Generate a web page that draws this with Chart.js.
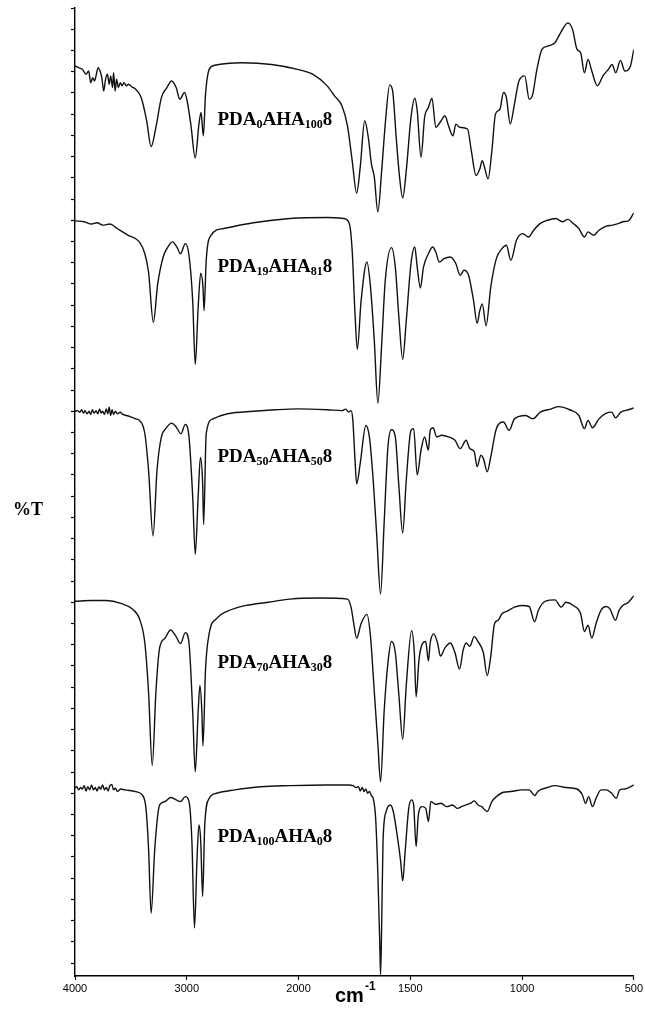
<!DOCTYPE html>
<html lang="en">
<head>
<meta charset="UTF-8">
<title>FTIR spectra PDA/AHA</title>
<script src="https://cdn.jsdelivr.net/npm/chart.js"></script>
<style>
    body { margin: 0; background: #fff; }
    #wrap { width: 645px; height: 1019px; }
</style>
</head>
<body>
<div id="wrap"><canvas id="irChart" width="645" height="1019"></canvas></div>
<script>
// x axis: wavenumber, scale changes at 2000 cm-1
const tickLabels = ['4000', '3000', '2000', '1500', '1000', '500'];

// each trace: [wavenumber, %T in stacked axis units]
const pda0aha100 = [
    [4000,42.27],[3967,42.19],[3934,42.11],[3901,41.88],[3878,42.03],[3859,41.48],[3842,41.72],[3826,41.56],
    [3812,41.80],[3793,42.19],[3776,42.03],[3760,41.72],[3743,41.09],[3727,41.64],[3710,41.88],[3694,41.41],
    [3681,41.80],[3664,41.25],[3655,41.95],[3641,41.09],[3628,41.64],[3612,41.25],[3595,41.48],[3579,41.33],
    [3562,41.48],[3539,41.33],[3523,41.41],[3490,41.28],[3457,41.17],[3408,40.78],[3359,39.69],
    [3319,38.47],[3276,39.38],[3227,40.78],[3178,41.25],[3135,41.56],[3095,41.25],[3062,40.70],[3020,41.02],
    [2997,40.63],[2964,39.53],[2924,37.94],[2891,39.53],[2872,40.08],[2852,38.98],[2832,40.94],[2799,42.11],
    [2750,42.30],[2503,42.42],[2240,42.34],[2010,42.11],[1937,41.88],[1872,41.33],[1839,40.86],[1806,40.39],
    [1781,39.45],[1760,37.81],[1740,36.28],[1724,37.50],[1704,39.69],[1688,38.91],[1674,37.66],[1661,37.03],
    [1645,35.39],[1628,37.34],[1612,39.53],[1592,41.38],[1579,41.09],[1562,38.75],[1548,37.03],[1534,36.05],
    [1518,37.34],[1497,39.84],[1480,40.75],[1469,40.16],[1452,37.97],[1436,39.84],[1419,40.31],[1403,40.75],
    [1386,39.38],[1362,39.69],[1345,39.92],[1329,39.45],[1309,38.98],[1296,39.53],[1280,39.38],[1244,39.30],
    [1227,38.28],[1206,37.11],[1189,37.42],[1178,37.81],[1168,37.50],[1152,36.95],[1135,38.28],[1119,40.00],
    [1099,40.23],[1083,41.02],[1070,40.78],[1053,39.53],[1034,40.47],[1014,41.56],[988,41.80],[968,40.70],
    [952,40.94],[935,42.03],[911,43.05],[886,43.20],[853,43.36],[828,43.83],[795,44.30],[774,43.98],
    [754,43.05],[738,42.89],[721,41.95],[705,42.58],[688,42.03],[663,41.33],[638,41.80],[614,42.11],
    [597,42.34],[581,41.95],[560,42.53],[540,42.03],[515,42.27],[500,43.05]
];

const pda19aha81 = [
    [4000,34.97],[3918,34.93],[3852,34.82],[3803,34.88],[3753,34.77],[3687,34.82],[3622,34.61],[3523,34.29],
    [3424,33.98],[3375,33.42],[3342,32.56],[3299,30.19],[3260,32.00],[3211,33.27],[3178,33.66],[3128,33.98],
    [3089,33.74],[3056,33.42],[3013,33.90],[2980,33.35],[2947,31.21],[2924,28.21],[2898,30.90],[2875,32.51],
    [2855,31.85],[2845,30.74],[2826,33.11],[2783,34.29],[2668,34.61],[2404,34.88],[2076,35.08],[1872,35.13],
    [1798,35.08],[1773,34.85],[1760,33.58],[1748,30.74],[1737,28.92],[1720,31.21],[1694,33.03],[1678,31.85],
    [1661,29.32],[1645,26.39],[1628,29.16],[1612,32.16],[1584,33.71],[1567,32.79],[1551,30.42],[1534,28.45],
    [1518,30.27],[1497,32.95],[1480,33.74],[1469,32.79],[1455,31.81],[1441,32.79],[1419,33.42],[1400,33.74],
    [1386,33.50],[1370,33.03],[1349,33.19],[1321,33.27],[1296,32.95],[1277,32.40],[1260,32.64],[1239,32.40],
    [1217,31.21],[1201,30.14],[1189,30.74],[1178,31.06],[1161,30.03],[1140,31.85],[1115,33.19],[1090,33.66],
    [1070,33.82],[1050,33.11],[1025,34.06],[997,34.37],[971,34.21],[948,34.53],[918,34.85],[886,35.00],
    [849,35.08],[820,34.93],[795,35.04],[771,34.85],[746,34.61],[721,34.21],[705,34.45],[680,34.29],
    [656,34.53],[623,34.72],[594,34.77],[566,34.85],[549,34.93],[524,34.97],[500,35.35]
];

const pda50aha50 = [
    [4000,26.00],[3977,26.03],[3957,25.95],[3941,26.07],[3924,25.91],[3911,26.03],[3891,25.88],[3875,26.00],
    [3859,25.85],[3845,26.07],[3829,25.91],[3812,26.03],[3796,25.88],[3780,26.11],[3766,25.91],[3753,26.00],
    [3737,25.85],[3720,26.11],[3707,25.88],[3694,26.19],[3681,25.80],[3668,26.07],[3655,25.85],[3638,26.00],
    [3622,25.88],[3595,25.95],[3572,25.85],[3539,25.80],[3507,25.75],[3457,25.64],[3424,25.57],
    [3375,24.94],[3342,23.23],[3302,20.12],[3266,23.23],
    [3227,24.79],[3188,25.18],[3135,25.44],[3095,25.26],[3052,24.94],[3013,25.38],[2980,24.79],[2947,21.98],
    [2924,19.26],[2898,21.98],[2878,23.82],[2858,22.61],[2849,20.66],[2826,24.94],[2766,25.64],[2635,25.88],
    [2404,26.00],[2207,26.07],[2007,26.11],[1872,26.07],[1806,26.03],[1789,26.10],[1776,25.96],[1765,26.03],
    [1757,25.57],[1748,23.85],[1740,22.58],
    [1724,23.54],[1699,25.33],[1683,24.79],[1666,22.76],[1650,20.12],[1633,17.39],[1617,20.74],[1600,24.32],
    [1584,25.13],[1567,24.79],[1551,22.45],[1534,20.27],[1518,22.76],[1497,25.10],[1485,25.18],[1469,23.00],
    [1452,24.17],[1436,24.79],[1419,24.17],[1411,25.10],[1398,25.22],[1382,24.79],[1359,24.87],[1329,24.79],
    [1300,24.63],[1277,24.24],[1250,24.63],[1234,24.24],[1214,24.09],[1201,23.39],[1184,23.93],[1173,23.78],
    [1156,23.15],[1140,23.85],[1115,25.18],[1083,25.49],[1058,25.10],[1034,25.64],[984,25.80],[952,25.64],
    [918,25.96],[869,26.11],[836,26.22],[787,26.07],[746,25.80],[721,25.18],[705,25.57],[685,25.22],
    [656,25.64],[623,25.91],[599,25.96],[582,25.69],[558,25.96],[524,26.07],[500,26.16]
];

const pda70aha30 = [
    [4000,17.05],[3852,17.08],[3720,17.08],[3589,16.95],[3490,16.69],[3424,16.23],[3375,15.08],[3342,12.77],
    [3309,9.31],[3276,12.77],[3243,14.85],[3194,15.31],[3145,15.69],[3095,15.38],[3056,15.05],[3013,15.57],
    [2980,15.08],[2947,11.85],[2924,9.00],[2898,11.85],[2882,13.08],[2865,11.85],[2855,10.23],[2832,13.85],
    [2799,15.54],[2734,16.23],[2635,16.58],[2470,16.85],[2273,17.00],[2076,17.15],[1905,17.20],[1781,17.15],
    [1765,16.77],[1753,16.00],[1740,15.31],[1720,16.00],[1694,16.43],[1678,15.38],[1661,12.77],[1645,10.31],
    [1633,8.54],[1617,11.85],[1600,14.15],[1584,15.15],[1567,14.62],[1551,12.62],[1534,10.54],[1518,13.08],
    [1494,15.66],[1482,14.62],[1474,12.54],[1461,14.31],[1444,15.08],[1431,15.15],[1419,14.23],[1411,15.08],
    [1395,15.51],[1378,15.08],[1365,14.46],[1345,14.85],[1321,15.08],[1300,14.62],[1280,13.85],[1263,14.77],
    [1250,15.08],[1234,14.92],[1214,15.38],[1197,15.15],[1173,14.62],[1156,13.54],[1140,14.46],[1123,16.00],
    [1107,16.15],[1090,16.46],[1066,16.58],[1034,16.77],[1002,16.85],[968,16.80],[944,16.08],[927,16.62],
    [895,17.05],[853,17.11],[824,16.77],[804,17.00],[771,16.85],[738,16.46],[721,15.62],[705,15.92],
    [688,15.31],[669,16.00],[647,16.62],[623,16.80],[607,16.69],[582,16.15],[566,16.62],[549,16.85],
    [524,17.00],[500,17.31]
];

const pda100aha0 = [
    [4000,8.24],[3984,8.31],[3967,8.16],[3951,8.27],[3934,8.20],[3918,8.36],[3901,8.11],[3885,8.31],
    [3868,8.16],[3852,8.39],[3836,8.16],[3819,8.27],[3803,8.11],[3786,8.31],[3770,8.20],[3753,8.39],
    [3737,8.16],[3720,8.27],[3704,8.11],[3688,8.36],[3671,8.42],[3655,8.16],[3638,8.24],[3622,8.08],
    [3589,8.20],[3556,8.16],[3457,8.08],[3398,7.92],[3365,7.29],[3342,5.41],[3319,2.35],[3286,5.41],
    [3243,7.45],[3194,7.61],[3145,7.80],[3095,7.69],[3056,7.61],[3013,7.84],[2980,7.61],[2954,5.73],
    [2931,1.65],[2908,4.94],[2891,6.51],[2875,5.73],[2858,3.14],[2839,6.51],[2799,7.76],[2734,8.00],
    [2569,8.16],[2339,8.31],[2076,8.36],[1872,8.39],[1773,8.39],[1757,8.36],[1743,8.27],[1732,8.31],
    [1724,8.11],[1715,8.27],[1707,8.08],[1699,8.20],[1691,8.00],[1683,8.08],[1674,7.89],[1666,7.76],
    [1655,6.82],[1645,4.16],[1636,0.71],[1633,-0.55],[1628,1.80],[1622,5.73],
    [1608,7.14],[1589,7.45],[1576,7.14],[1559,6.04],[1543,4.78],[1534,3.87],[1523,5.25],[1507,7.29],
    [1494,7.69],[1485,7.45],[1474,5.49],[1464,6.98],[1447,7.37],[1431,7.29],[1419,6.67],[1408,7.61],
    [1386,7.48],[1362,7.53],[1337,7.37],[1312,7.45],[1288,7.29],[1271,7.37],[1250,7.45],[1230,7.53],
    [1214,7.64],[1197,7.45],[1181,7.37],[1156,7.14],[1135,7.61],[1115,7.84],[1083,8.05],[1050,8.08],
    [1001,8.16],[968,8.16],[944,7.89],[927,8.11],[886,8.27],[853,8.36],[804,8.27],[754,8.20],
    [730,7.92],[716,7.53],[702,7.84],[685,7.37],[669,7.76],[647,8.16],[623,8.16],[599,8.00],
    [579,7.76],[563,8.16],[541,8.20],[500,8.39]
];

const traces = [pda0aha100, pda19aha81, pda50aha50, pda70aha30, pda100aha0];
// sample names, odd parts are subscripts
const sampleNames = [
    ['PDA', '0', 'AHA', '100', '8'],
    ['PDA', '19', 'AHA', '81', '8'],
    ['PDA', '50', 'AHA', '50', '8'],
    ['PDA', '70', 'AHA', '30', '8'],
    ['PDA', '100', 'AHA', '0', '8']
];
const labelWn = 2725;
const labelAt = [39.5, 32.55, 23.6, 13.9, 5.7];

// piecewise wavenumber axis: 1000 cm-1 per division above 2000, 500 below
function toAxis(wn) {
    return wn >= 2000 ? (4000 - wn) / 1000 : 2 + (2000 - wn) / 500;
}

const serif = '"Liberation Serif", "Times New Roman", serif';
const sans = '"Liberation Sans", Arial, sans-serif';

const textPlugin = {
    id: 'textPlugin',
    afterDraw(chart) {
        const { ctx, scales: { x, y } } = chart;
        ctx.save();
        ctx.fillStyle = '#000';
        ctx.textBaseline = 'alphabetic';
        sampleNames.forEach((parts, i) => {
            let px = x.getPixelForValue(toAxis(labelWn));
            const py = y.getPixelForValue(labelAt[i]);
            parts.forEach((p, j) => {
                const sub = j % 2 === 1;
                ctx.font = sub ? 'bold 12px ' + serif : 'bold 19px ' + serif;
                ctx.fillText(p, px, py + (sub ? 3 : 0));
                px += ctx.measureText(p).width;
            });
        });
        // y title
        ctx.font = 'bold 18px ' + serif;
        ctx.fillText('%T', 13, 515);
        // x title cm-1
        ctx.font = 'bold 20px ' + sans;
        ctx.fillText('cm', 335, 1002);
        const w = ctx.measureText('cm').width;
        ctx.font = 'bold 12px ' + sans;
        ctx.fillText('-1', 335 + w + 1, 990);
        ctx.restore();
    }
};

const ctx = document.getElementById('irChart').getContext('2d');
new Chart(ctx, {
    type: 'line',
    data: {
        datasets: traces.map(t => ({
            data: t.map(p => ({ x: toAxis(p[0]), y: p[1] })),
            borderColor: '#111',
            borderWidth: 1.4,
            pointRadius: 0,
            fill: false,
            cubicInterpolationMode: 'monotone'
        }))
    },
    options: {
        responsive: false,
        animation: false,
        events: [],
        layout: { padding: { left: 0, right: 9, top: 8, bottom: 0 } },
        plugins: { legend: { display: false }, tooltip: { enabled: false } },
        scales: {
            x: {
                type: 'linear',
                min: 0,
                max: 5,
                ticks: {
                    stepSize: 1,
                    color: '#000',
                    font: { family: sans, size: 11 },
                    padding: 2,
                    maxRotation: 0,
                    callback: (v) => tickLabels[v]
                },
                grid: { drawOnChartArea: false, tickLength: 4, tickColor: '#000', tickWidth: 1.2 },
                border: { color: '#000', width: 1.4 },
                afterFit(scale) { scale.height = 43; }
            },
            y: {
                type: 'linear',
                min: -0.61,
                max: 45,
                afterBuildTicks(scale) {
                    const t = [];
                    for (let i = 0; i <= 45; i++) t.push({ value: i });
                    scale.ticks = t;
                },
                ticks: { display: false },
                grid: { drawOnChartArea: false, tickLength: 4, tickColor: '#000', tickWidth: 1.2 },
                border: { color: '#000', width: 1.4 },
                afterFit(scale) { scale.width = 75; }
            }
        }
    },
    plugins: [textPlugin]
});
</script>
</body>
</html>
